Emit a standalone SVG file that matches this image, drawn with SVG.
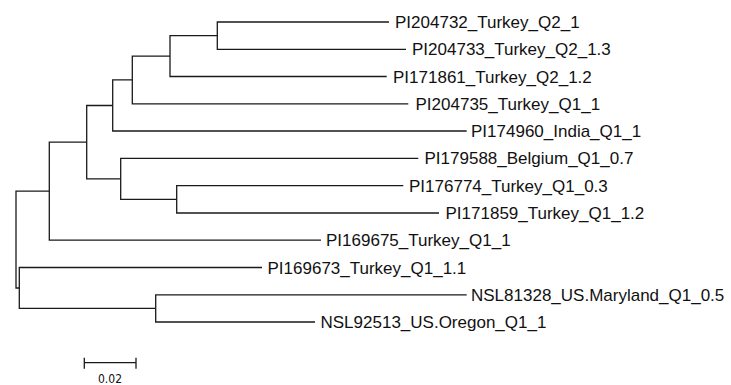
<svg xmlns="http://www.w3.org/2000/svg" width="731" height="385" viewBox="0 0 731 385">
<style>
.br{fill:none;stroke:#1a1a1a;stroke-width:1.3;stroke-linejoin:miter}
.lbl{font-family:"Liberation Sans",Arial,sans-serif;font-size:17px;fill:#111}
.sc{font-family:"Liberation Sans Narrow","DejaVu Sans Condensed",sans-serif;font-size:12px;fill:#111}
</style>
<rect width="731" height="385" fill="#fff"/>
<g id="connectors">
<path class="br" d="M49.3 191.2 H16 V288 H19.3"/>
<path class="br" d="M86.7 142.2 H49.3 V240.2 H321"/>
<path class="br" d="M112.7 105.5 H86.7 V178.9 H120.7"/>
<path class="br" d="M132.3 79.95 H112.7 V131 H466.7"/>
<path class="br" d="M170 56.1 H132.3 V103.8 H408.3"/>
<path class="br" d="M217.3 35.65 H170 V76.5 H386.7"/>
<path class="br" d="M389 22 H217.3 V49.3 H406"/>
<path class="br" d="M418.3 158.4 H120.7 V199.3 H176.7"/>
<path class="br" d="M403.3 185.6 H176.7 V213 H439"/>
<path class="br" d="M262 267.5 H19.3 V308.4 H155.7"/>
<path class="br" d="M466.7 294.8 H155.7 V322 H315"/>
</g>
<g id="leaf-PI204732"><text class="lbl" x="395" y="28">PI204732_Turkey_Q2_1</text></g>
<g id="leaf-PI204733"><text class="lbl" x="412" y="55.3">PI204733_Turkey_Q2_1.3</text></g>
<g id="leaf-PI171861"><text class="lbl" x="393" y="82.5">PI171861_Turkey_Q2_1.2</text></g>
<g id="leaf-PI204735"><text class="lbl" x="415.5" y="109.8">PI204735_Turkey_Q1_1</text></g>
<g id="leaf-PI174960"><text class="lbl" x="471" y="137">PI174960_India_Q1_1</text></g>
<g id="leaf-PI179588"><text class="lbl" x="424.5" y="164.4">PI179588_Belgium_Q1_0.7</text></g>
<g id="leaf-PI176774"><text class="lbl" x="409" y="191.6">PI176774_Turkey_Q1_0.3</text></g>
<g id="leaf-PI171859"><text class="lbl" x="445.5" y="219">PI171859_Turkey_Q1_1.2</text></g>
<g id="leaf-PI169675"><text class="lbl" x="326" y="246.2">PI169675_Turkey_Q1_1</text></g>
<g id="leaf-PI169673"><text class="lbl" x="267.5" y="273.5">PI169673_Turkey_Q1_1.1</text></g>
<g id="leaf-NSL81328"><text class="lbl" x="471" y="300.8">NSL81328_US.Maryland_Q1_0.5</text></g>
<g id="leaf-NSL92513"><text class="lbl" x="320.5" y="328">NSL92513_US.Oregon_Q1_1</text></g>
<g id="scale-bar">
<path class="br" d="M84.3 362.7 H136 M84.3 357.7 V368.7 M136 357.7 V368.7"/>
<text class="sc" x="110" y="382.5" text-anchor="middle">0.02</text>
</g>
</svg>
